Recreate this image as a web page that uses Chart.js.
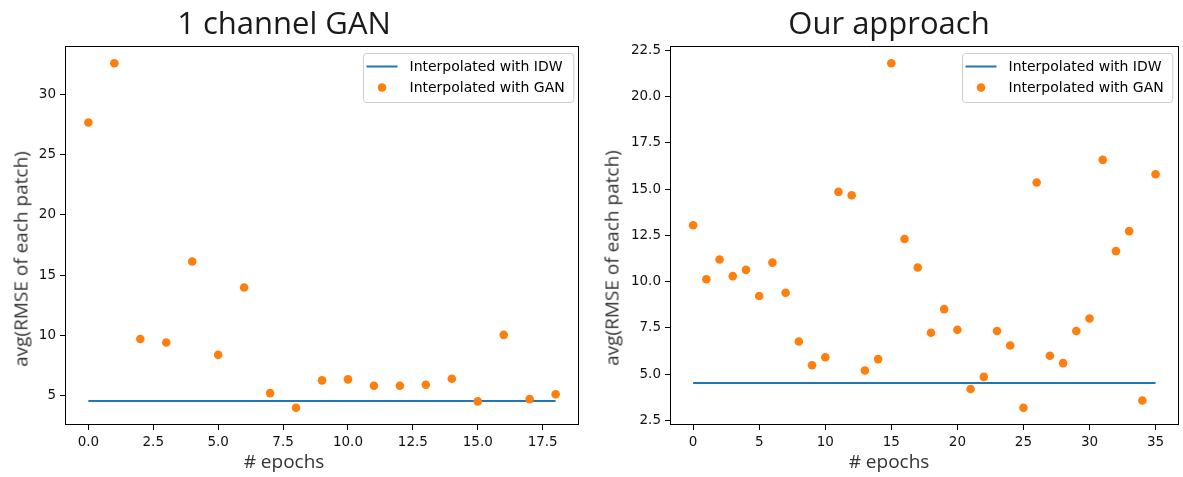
<!DOCTYPE html>
<html>
<head>
<meta charset="utf-8">
<script src="https://cdn.jsdelivr.net/npm/chart.js@4.4.1/dist/chart.umd.min.js"></script>
<style>
  body { margin: 0; background: #fff; }
  #wrap { position: relative; width: 1183px; height: 477px; overflow: hidden; }
  .pane { position: absolute; top: 0; }
  .txt { position: absolute; white-space: nowrap; font-family: "Open Sans", sans-serif; }
  .title { font-size: 31px; line-height: 1; color: #1a1a1a; transform: translateX(-50%); }
  .xlab { font-size: 19px; line-height: 1; color: #333; transform: translateX(-50%); }
  .ylab { font-size: 19px; line-height: 1; color: #333; transform: translate(-50%, -50%) rotate(-90deg); }
</style>
</head>
<body>
<div id="wrap">
  <div class="pane" style="left:0;"><canvas id="leftChart" width="590" height="477"></canvas></div>
  <div class="pane" style="left:590px;"><canvas id="rightChart" width="593" height="477"></canvas></div>

  <div class="txt title" style="left:284px; top:7px;">1 channel GAN</div>
  <div class="txt title" style="left:889px; top:7px;">Our approach</div>
  <div class="txt xlab" style="left:284px; top:452px;"># epochs</div>
  <div class="txt xlab" style="left:889px; top:452px;"># epochs</div>
  <div class="txt ylab" style="left:21px; top:259px;">avg(RMSE of each patch)</div>
  <div class="txt ylab" style="left:612px; top:258px;">avg(RMSE of each patch)</div>
</div>

<script>
// ---- data ----
var epochsLeft = [0, 1, 2, 3, 4, 5, 6, 7, 8, 9, 10, 11, 12, 13, 14, 15, 16, 17, 18];
var ganLeft = [27.67, 32.6, 9.68, 9.4, 16.13, 8.37, 13.97, 5.19, 3.97, 6.25, 6.33, 5.8, 5.8, 5.88, 6.38, 4.5, 10.03, 4.69, 5.1];
var idwLeft = 4.53;

var epochsRight = [0, 1, 2, 3, 4, 5, 6, 7, 8, 9, 10, 11, 12, 13, 14, 15, 16, 17, 18, 19, 20, 21, 22, 23, 24, 25, 26, 27, 28, 29, 30, 31, 32, 33, 34, 35];
var ganRight = [13.05, 10.13, 11.2, 10.3, 10.64, 9.23, 11.03, 9.4, 6.77, 5.49, 5.92, 14.85, 14.67, 5.2, 5.82, 21.8, 12.31, 10.77, 7.24, 8.52, 7.4, 4.2, 4.86, 7.34, 6.55, 3.19, 15.36, 6.0, 5.6, 7.34, 8.01, 16.58, 11.65, 12.73, 3.58, 15.8];
var idwRight = 4.53;

var xTicksLeft = [0, 2.5, 5, 7.5, 10, 12.5, 15, 17.5];
var yTicksLeft = [5, 10, 15, 20, 25, 30];
var xTicksRight = [0, 5, 10, 15, 20, 25, 30, 35];
var yTicksRight = [2.5, 5, 7.5, 10, 12.5, 15, 17.5, 20, 22.5];

var labelIDW = "Interpolated with IDW";
var labelGAN = "Interpolated with GAN";

// full box round the plot, like matplotlib spines
var frame = {
  id: "frame",
  afterDatasetsDraw: function(chart) {
    var a = chart.chartArea, ctx = chart.ctx;
    ctx.save();
    ctx.strokeStyle = "#000";
    ctx.lineWidth = 1;
    ctx.strokeRect(Math.round(a.left) + 0.5, Math.round(a.top) + 0.5,
                   Math.round(a.right - a.left) - 1, Math.round(a.bottom - a.top) - 1);
    ctx.restore();
  }
};

// legend box inside the plot, top right
var boxLegend = {
  id: "boxLegend",
  afterDraw: function(chart) {
    var ctx = chart.ctx, a = chart.chartArea;
    var sets = chart.data.datasets;
    ctx.save();
    ctx.font = '14px "DejaVu Sans"';
    var textW = 0;
    sets.forEach(function(d) { textW = Math.max(textW, ctx.measureText(d.label).width); });
    var w = 3 + 31 + 12 + textW + 9;
    var h = 49;
    var x = Math.round(a.right - 6 - w) + 0.5, y = Math.round(a.top + 7) + 0.5;
    ctx.beginPath();
    ctx.roundRect(x, y, w, h, 3);
    ctx.fillStyle = "rgba(255,255,255,0.8)";
    ctx.fill();
    ctx.strokeStyle = "#cccccc";
    ctx.lineWidth = 1;
    ctx.stroke();
    sets.forEach(function(d, i) {
      var cy = y + 13 + i * 21;
      if (d.showLine) {
        ctx.beginPath();
        ctx.moveTo(x + 3, cy);
        ctx.lineTo(x + 34, cy);
        ctx.strokeStyle = d.borderColor;
        ctx.lineWidth = 2;
        ctx.stroke();
      } else {
        ctx.beginPath();
        ctx.arc(x + 18.5, cy, 4.3, 0, Math.PI * 2);
        ctx.fillStyle = d.backgroundColor;
        ctx.fill();
      }
      ctx.fillStyle = "#000";
      ctx.textBaseline = "middle";
      ctx.fillText(d.label, x + 46, cy + 1);
    });
    ctx.restore();
  }
};

function points(xs, ys) {
  return xs.map(function(x, i) { return { x: x, y: ys[i] }; });
}

function makeChart(id, epochs, gan, idw, opts) {
  var ctx = document.getElementById(id).getContext("2d");
  return new Chart(ctx, {
    type: "scatter",
    data: {
      datasets: [{
        type: "line",
        label: labelIDW,
        data: [{ x: epochs[0], y: idw }, { x: epochs[epochs.length - 1], y: idw }],
        showLine: true,
        borderColor: "#1f77b4",
        backgroundColor: "#1f77b4",
        borderWidth: 2,
        pointRadius: 0,
        order: 1
      }, {
        label: labelGAN,
        data: points(epochs, gan),
        backgroundColor: "#ff7f0e",
        borderWidth: 0,
        pointRadius: 4.3,
        pointHoverRadius: 4.3,
        order: 0
      }]
    },
    options: {
      responsive: false,
      animation: false,
      layout: { padding: { top: 46, right: opts.padRight, left: 0, bottom: 0 } },
      plugins: { legend: { display: false }, tooltip: { enabled: false } },
      scales: {
        x: {
          type: "linear",
          min: opts.xMin, max: opts.xMax,
          afterFit: function(s) { s.height = 52; },
          afterBuildTicks: function(s) { s.ticks = opts.xTicks.map(function(v) { return { value: v }; }); },
          border: { display: false },
          grid: { drawOnChartArea: false, drawTicks: true, tickLength: 5, color: "#000" },
          ticks: {
            maxRotation: 0, autoSkip: false, padding: 4, color: "#111",
            font: { family: "DejaVu Sans", size: 13.5 },
            callback: opts.xFmt
          }
        },
        y: {
          type: "linear",
          min: opts.yMin, max: opts.yMax,
          afterFit: function(s) { s.width = opts.yWidth; },
          afterBuildTicks: function(s) { s.ticks = opts.yTicks.map(function(v) { return { value: v }; }); },
          border: { display: false },
          grid: { drawOnChartArea: false, drawTicks: true, tickLength: 5, color: "#000" },
          ticks: {
            autoSkip: false, padding: 4, color: "#111",
            font: { family: "DejaVu Sans", size: 13.5 },
            callback: opts.yFmt
          }
        }
      }
    },
    plugins: [frame, boxLegend]
  });
}

var oneDec = function(v) { return Number(v).toFixed(1); };
var noDec = function(v) { return String(Math.round(v)); };

makeChart("leftChart", epochsLeft, ganLeft, idwLeft, {
  xMin: -0.9, xMax: 18.9, yMin: 2.54, yMax: 34.03,
  xTicks: xTicksLeft, yTicks: yTicksLeft,
  xFmt: oneDec, yFmt: noDec,
  yWidth: 65, padRight: 11
});

makeChart("rightChart", epochsRight, ganRight, idwRight, {
  xMin: -1.75, xMax: 36.75, yMin: 2.26, yMax: 22.73,
  xTicks: xTicksRight, yTicks: yTicksRight,
  xFmt: noDec, yFmt: oneDec,
  yWidth: 80, padRight: 1
});
</script>
</body>
</html>
